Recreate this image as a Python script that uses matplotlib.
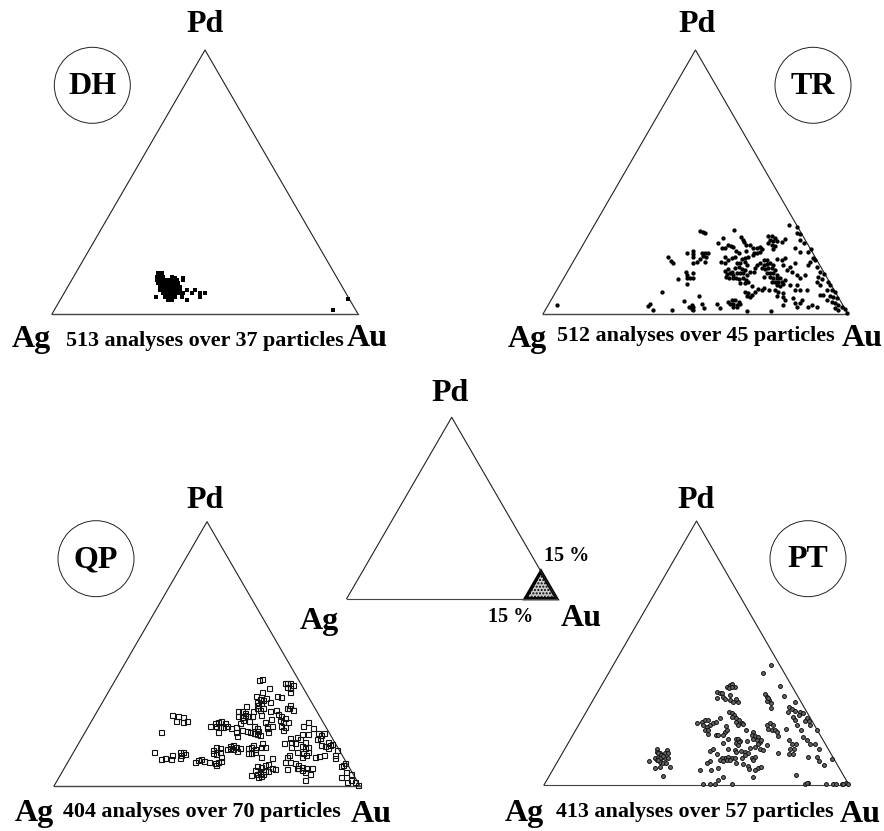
import matplotlib
matplotlib.use('Agg')
import matplotlib.pyplot as plt
from matplotlib.patches import Ellipse, Polygon

# Each pair is (position along the base in %, Pd in %), base position = Au + Pd / 2
dh_points = [
    (34.7, 15.4), (35.8, 15.4), (34.2, 14.1), (35.3, 14.1), (36.4, 14.1), (39.1, 14.1), (40.2, 13.5), (42.9, 13.5),
    (34.2, 12.9), (35.3, 12.9), (36.4, 12.9), (37.5, 12.9), (38.6, 12.9), (39.6, 12.9), (40.7, 12.9), (42.9, 12.9),
    (34.7, 11.6), (35.8, 11.6), (36.9, 11.6), (38.0, 11.6), (39.1, 11.6), (40.2, 11.6), (41.3, 11.6),
    (35.3, 10.3), (36.4, 10.3), (37.5, 10.3), (38.6, 10.3), (39.6, 10.3), (40.7, 10.3), (41.8, 10.3),
    (35.3, 9.1), (36.4, 9.1), (37.5, 9.1), (38.6, 9.1), (39.6, 9.1), (40.7, 9.1), (41.8, 9.1), (44.0, 9.1), (46.7, 9.1),
    (36.4, 7.8), (37.5, 7.8), (38.6, 7.8), (39.6, 7.8), (40.7, 7.8), (41.8, 7.8), (42.9, 7.8), (45.6, 7.8), (48.4, 7.8),
    (50.0, 7.8), (34.0, 6.6), (36.9, 6.6), (38.0, 6.6), (39.1, 6.6), (40.2, 6.6), (42.4, 6.6), (48.4, 6.6),
    (38.0, 5.3), (39.1, 5.3), (44.0, 5.3), (91.8, 1.5), (96.7, 5.7),
]

tr_points = [
    (80.5, 33.7), (83.2, 33.1), (83.2, 30.8), (84.3, 30.3), (84.3, 28.0), (85.6, 26.8), (82.6, 24.9), (84.3, 23.6),
    (87.0, 23.6), (87.8, 24.5), (51.5, 31.6), (52.4, 31.1), (53.0, 30.8), (62.6, 31.8), (58.9, 28.7), (57.5, 27.0),
    (64.8, 29.0), (65.5, 28.0), (65.9, 27.2), (60.8, 26.1), (61.5, 25.8), (62.4, 25.5), (58.6, 24.9), (59.7, 24.9),
    (63.3, 24.0), (66.4, 26.1), (67.9, 26.1), (69.0, 25.1), (70.1, 24.9), (71.2, 25.5), (71.7, 24.5), (66.6, 24.0),
    (69.2, 23.2), (71.0, 23.6), (73.9, 29.5), (75.0, 29.5), (76.1, 28.7), (74.4, 28.0), (75.5, 27.8), (76.6, 27.8),
    (73.9, 26.8), (75.0, 26.1), (76.1, 25.8), (75.3, 24.5), (78.3, 27.4), (79.4, 28.3), (47.3, 23.0), (49.3, 24.0),
    (49.1, 22.7), (49.3, 21.7), (52.0, 23.0), (53.1, 23.2), (54.2, 23.0), (52.6, 22.0), (53.5, 21.7), (51.5, 20.8),
    (50.4, 19.8), (49.3, 19.4), (53.2, 19.6), (40.9, 21.5), (41.9, 20.2), (42.5, 19.4), (59.7, 21.7), (58.3, 19.8),
    (59.7, 19.4), (60.8, 20.5), (61.9, 21.1), (63.0, 21.7), (64.1, 23.0), (65.1, 20.7), (66.2, 21.1), (67.3, 21.7),
    (69.0, 22.4), (70.1, 23.0), (63.5, 19.4), (64.6, 19.2), (66.8, 18.6), (66.2, 19.8), (59.7, 16.4), (60.8, 16.9),
    (61.9, 16.0), (63.0, 17.3), (64.1, 17.7), (65.1, 16.9), (66.2, 16.7), (60.2, 15.2), (61.3, 15.4), (62.4, 14.8),
    (63.5, 15.4), (64.6, 15.7), (65.7, 15.4), (66.8, 14.8), (60.0, 14.1), (61.1, 13.5), (62.2, 13.5), (63.3, 13.5),
    (64.4, 13.1), (65.5, 13.5), (66.6, 12.9), (67.3, 12.2), (64.6, 11.9), (66.2, 11.6), (67.9, 16.0), (69.2, 15.8),
    (72.3, 20.5), (73.4, 20.5), (71.2, 19.2), (72.3, 18.6), (73.4, 19.0), (74.4, 19.2), (75.5, 18.6), (71.7, 17.3),
    (72.8, 16.9), (73.9, 17.3), (75.0, 17.3), (76.1, 16.7), (73.4, 15.4), (74.4, 15.4), (75.5, 15.4), (76.6, 14.8),
    (74.4, 14.1), (75.5, 13.5), (76.6, 13.5), (77.7, 13.5), (75.0, 12.2), (76.1, 12.2), (77.2, 12.2), (78.3, 12.2),
    (79.4, 12.9), (76.6, 11.0), (77.7, 10.6), (78.8, 11.4), (72.3, 14.1), (70.1, 18.6), (69.5, 17.3), (78.3, 20.5),
    (79.4, 21.3), (76.6, 20.7), (78.8, 18.6), (81.0, 17.9), (82.6, 19.2), (79.9, 16.7), (81.5, 16.0), (83.2, 14.8),
    (84.3, 13.5), (85.9, 14.8), (87.0, 18.6), (88.6, 21.1), (87.6, 19.8), (89.2, 20.5), (89.7, 17.9), (90.8, 16.0),
    (92.1, 15.2), (90.3, 14.1), (91.4, 13.1), (89.7, 12.2), (90.8, 11.0), (93.6, 12.2), (94.1, 11.0), (94.7, 9.1),
    (95.8, 8.5), (93.0, 9.1), (91.9, 7.2), (94.1, 6.8), (95.2, 6.3), (96.3, 5.9), (93.0, 5.3), (94.7, 4.7),
    (95.8, 4.0), (96.8, 3.4), (98.0, 2.8), (95.8, 2.1), (96.8, 1.5), (99.0, 1.8), (99.8, 0.5), (66.2, 8.5),
    (67.3, 7.8), (68.4, 7.2), (67.9, 6.3), (66.8, 6.8), (69.5, 8.5), (70.6, 9.3), (71.7, 9.1), (68.4, 10.6),
    (72.3, 9.7), (74.2, 9.1), (76.1, 9.1), (77.2, 8.5), (78.8, 7.8), (76.6, 6.8), (78.8, 6.3), (79.4, 5.3),
    (82.1, 5.9), (82.6, 9.1), (84.3, 9.1), (86.5, 9.1), (81.0, 11.0), (83.2, 11.0), (84.8, 5.3), (84.3, 4.0),
    (82.6, 4.0), (83.4, 2.8), (78.6, 3.4), (87.0, 2.8), (88.1, 3.4), (89.7, 2.8), (90.8, 7.2), (60.8, 4.7),
    (61.9, 5.3), (63.0, 5.3), (64.1, 4.7), (61.3, 3.8), (62.4, 3.8), (63.5, 3.4), (64.6, 3.8), (62.4, 2.8),
    (63.5, 2.5), (44.1, 13.3), (46.9, 16.0), (47.3, 14.8), (49.1, 15.4), (47.3, 13.5), (48.2, 13.5), (49.3, 13.5),
    (47.3, 11.4), (38.9, 8.2), (51.3, 6.8), (46.2, 5.0), (52.0, 3.8), (48.8, 3.4), (48.0, 2.5), (49.3, 2.5),
    (48.8, 1.8), (49.3, 1.5), (52.8, 2.4), (42.2, 1.5), (36.0, 1.5), (35.1, 3.8), (34.5, 3.0), (57.0, 3.7),
    (58.0, 2.1), (67.0, 1.1), (74.7, 1.1), (4.6, 3.5),
]

qp_points = [
    (67.1, 40.1), (68.1, 40.6), (70.2, 36.9), (68.1, 35.5), (66.0, 34.1), (72.8, 34.2), (74.2, 33.7), (75.4, 38.9),
    (76.2, 39.1), (77.1, 39.1), (78.2, 38.2), (76.0, 37.6), (77.1, 37.0), (77.1, 35.7), (66.2, 31.9), (67.3, 32.8),
    (68.4, 32.6), (66.7, 30.7), (67.8, 31.3), (69.2, 33.2), (70.5, 31.6), (62.7, 30.4), (64.9, 28.4), (66.2, 29.4),
    (67.3, 28.8), (68.4, 29.4), (76.0, 29.4), (77.1, 30.7), (78.2, 28.8), (76.9, 29.4), (60.2, 28.2), (61.3, 28.5),
    (62.4, 27.8), (60.2, 26.5), (61.3, 26.0), (62.4, 26.9), (63.5, 26.5), (64.8, 26.5), (61.8, 25.0), (63.8, 24.6),
    (60.7, 23.7), (70.5, 28.2), (72.7, 28.8), (67.8, 26.9), (70.8, 25.4), (73.3, 27.3), (74.3, 26.5), (75.4, 25.6),
    (73.8, 25.0), (74.9, 24.4), (76.5, 24.4), (74.3, 22.7), (75.4, 22.2), (68.9, 24.4), (69.5, 22.7), (71.1, 22.7),
    (70.0, 20.6), (69.5, 21.8), (74.9, 21.2), (38.7, 26.9), (40.4, 26.5), (42.0, 26.0), (39.8, 24.6), (42.2, 24.2),
    (43.4, 24.7), (35.1, 20.3), (51.0, 22.7), (52.6, 24.0), (53.7, 24.4), (54.7, 24.6), (55.8, 23.7), (56.4, 22.7),
    (53.1, 22.7), (54.2, 22.2), (55.3, 22.2), (53.7, 20.6), (57.8, 21.8), (59.4, 22.2), (59.6, 20.6), (61.6, 21.2),
    (59.9, 19.1), (63.1, 20.9), (64.2, 20.6), (65.3, 22.7), (66.4, 21.8), (65.3, 20.2), (66.2, 19.6), (67.3, 19.3),
    (66.7, 20.9), (81.4, 22.7), (83.1, 24.4), (84.7, 21.8), (80.9, 19.7), (79.3, 18.7), (83.1, 19.7), (86.3, 20.0),
    (87.4, 19.3), (88.2, 20.2), (85.8, 17.7), (86.9, 18.0), (77.1, 18.0), (77.6, 16.8), (75.0, 16.4), (78.7, 16.4),
    (80.3, 17.7), (82.0, 16.8), (80.9, 15.1), (82.0, 14.3), (83.1, 14.9), (77.6, 14.9), (79.3, 13.0), (68.1, 16.1),
    (67.8, 14.9), (68.9, 14.6), (81.4, 12.4), (82.5, 11.7), (85.2, 10.8), (86.7, 11.3), (88.3, 11.7), (81.2, 10.8),
    (83.1, 13.0), (87.4, 15.5), (88.5, 15.1), (89.6, 16.8), (90.7, 15.9), (89.6, 14.3), (90.1, 15.5), (92.5, 13.6),
    (91.8, 11.7), (91.8, 10.5), (52.0, 13.6), (53.1, 14.6), (54.2, 14.3), (52.0, 12.4), (53.1, 12.1), (54.2, 13.0),
    (54.7, 11.1), (56.4, 13.9), (57.5, 14.3), (58.6, 15.5), (59.6, 14.9), (60.7, 14.3), (58.6, 13.9), (59.9, 13.4),
    (57.5, 15.1), (63.5, 14.3), (64.5, 14.6), (65.6, 13.9), (63.5, 12.4), (64.5, 12.4), (65.6, 13.0), (65.1, 15.5),
    (32.6, 12.7), (35.1, 10.1), (36.2, 10.5), (38.1, 10.1), (38.7, 11.7), (41.1, 13.0), (42.2, 13.0), (41.4, 11.7),
    (42.8, 12.1), (41.1, 10.5), (46.0, 9.2), (47.1, 9.8), (48.2, 10.1), (49.0, 9.6), (50.6, 9.0), (52.6, 8.6),
    (53.7, 9.2), (54.7, 9.5), (53.1, 7.9), (67.5, 10.8), (71.4, 10.5), (76.9, 11.7), (76.0, 10.8), (75.4, 9.2),
    (77.1, 9.2), (78.7, 8.6), (79.8, 7.9), (80.9, 7.3), (79.8, 6.7), (80.9, 6.0), (82.0, 5.4), (79.3, 6.7),
    (76.2, 6.4), (82.5, 6.9), (84.2, 6.9), (83.6, 4.5), (82.0, 2.3), (66.2, 7.6), (67.8, 7.3), (68.9, 7.9),
    (70.0, 8.3), (71.1, 6.7), (72.2, 6.3), (65.6, 6.0), (67.3, 5.8), (68.9, 5.8), (70.0, 5.8), (64.5, 4.2),
    (66.2, 4.5), (67.3, 4.8), (66.7, 3.3), (67.8, 3.8), (68.4, 4.5), (94.5, 7.9), (95.0, 8.8), (93.9, 7.6),
    (95.4, 5.4), (97.2, 4.4), (93.9, 3.3), (97.2, 2.3), (95.8, 1.4), (99.4, 0.4), (98.3, 1.6),
]

pt_points = [
    (74.3, 45.4), (71.9, 42.5), (77.3, 37.6), (78.7, 33.8), (60.1, 37.2), (61.0, 37.8), (61.8, 38.2), (62.6, 37.0),
    (60.7, 36.6), (61.5, 37.0), (56.8, 35.3), (57.7, 34.7), (58.8, 33.4), (58.2, 34.9), (56.6, 32.8), (59.3, 32.4),
    (61.0, 32.2), (62.0, 31.5), (63.7, 31.5), (61.0, 34.0), (62.9, 32.4), (72.4, 34.3), (73.2, 33.4), (73.8, 32.2),
    (73.0, 31.9), (74.3, 30.9), (74.3, 29.0), (73.5, 32.8), (82.3, 31.5), (80.4, 29.4), (81.2, 28.6), (80.1, 27.7),
    (82.3, 28.0), (83.9, 27.7), (85.0, 27.1), (83.7, 26.5), (81.7, 25.8), (82.3, 24.8), (86.1, 25.2), (86.9, 24.3),
    (85.5, 24.3), (87.2, 22.7), (89.4, 20.8), (83.0, 22.7), (84.4, 21.0), (79.5, 21.4), (60.7, 27.7), (61.5, 27.1),
    (62.3, 26.5), (61.8, 25.8), (63.1, 25.2), (64.0, 24.6), (63.1, 23.9), (64.8, 23.6), (63.7, 22.7), (65.3, 23.1),
    (50.2, 23.6), (51.7, 23.9), (52.8, 24.6), (53.8, 24.8), (52.2, 22.7), (53.3, 22.1), (54.4, 22.7), (55.5, 23.3),
    (56.4, 23.9), (52.8, 20.8), (53.8, 20.8), (57.7, 25.5), (53.8, 19.5), (73.0, 22.7), (74.1, 23.6), (75.2, 22.7),
    (73.5, 21.4), (74.6, 20.8), (75.7, 20.8), (76.8, 18.6), (76.3, 20.2), (59.6, 22.3), (59.3, 20.2), (58.8, 18.9),
    (59.9, 20.8), (56.4, 19.1), (57.1, 19.0), (60.4, 17.6), (58.8, 16.0), (66.2, 21.0), (68.6, 20.2), (68.1, 18.9),
    (69.1, 18.5), (70.2, 18.3), (68.6, 17.6), (69.7, 17.0), (70.8, 16.4), (70.2, 15.5), (71.3, 17.0), (73.0, 15.1),
    (67.5, 14.2), (69.1, 14.5), (62.9, 17.6), (63.7, 17.3), (64.4, 16.8), (63.1, 16.0), (64.0, 16.4), (66.4, 16.6),
    (63.7, 15.1), (62.6, 13.2), (63.1, 12.6), (64.6, 13.0), (65.9, 12.6), (67.0, 12.0), (70.8, 13.5), (71.9, 13.2),
    (54.4, 12.8), (55.3, 13.8), (56.6, 11.9), (60.4, 13.8), (59.3, 10.4), (58.2, 10.1), (57.7, 9.4), (60.4, 10.7),
    (61.5, 10.4), (62.6, 10.1), (58.8, 9.0), (59.9, 9.4), (61.0, 9.4), (63.1, 8.2), (64.8, 10.1), (65.9, 11.3),
    (65.3, 7.9), (67.0, 7.1), (68.1, 10.4), (69.1, 10.7), (68.6, 9.4), (54.4, 9.0), (53.5, 8.2), (51.3, 5.6),
    (54.9, 5.6), (56.9, 6.5), (70.2, 6.3), (69.1, 5.6), (71.3, 6.9), (67.3, 5.9), (68.4, 2.9), (58.8, 3.1),
    (57.2, 1.8), (52.2, 0.2), (54.4, 0.2), (56.0, 0.2), (61.7, 0.2), (36.9, 13.8), (37.1, 12.6), (38.0, 12.0),
    (40.2, 13.2), (39.6, 12.0), (40.7, 12.0), (36.4, 10.4), (37.4, 10.7), (38.5, 10.1), (39.6, 10.1), (40.7, 10.4),
    (36.9, 9.4), (38.0, 8.8), (39.1, 8.2), (34.4, 9.0), (36.4, 6.5), (38.0, 6.9), (40.0, 8.2), (41.3, 6.9),
    (39.1, 3.4), (37.4, 12.0), (38.5, 11.3), (38.0, 10.1), (39.1, 11.0), (37.4, 9.4), (80.3, 17.0), (81.2, 15.7),
    (82.6, 15.4), (80.6, 13.8), (81.9, 13.8), (80.4, 11.7), (81.7, 11.7), (76.6, 12.0), (85.0, 18.3), (86.1, 17.0),
    (87.2, 15.7), (88.9, 15.4), (90.2, 13.6), (86.6, 10.7), (89.4, 10.7), (90.1, 9.0), (91.8, 7.5), (94.3, 9.7),
    (82.6, 3.7), (85.5, 0.2), (86.6, 0.8), (86.1, 0.6), (92.4, 0.2), (94.8, 0.2), (95.7, 0.2), (97.6, 0.2),
    (99.0, 0.6), (99.6, 0.2), (98.1, 0.2),
]

panel_names = ['DH', 'TR', 'QP', 'PT']
analyses = ['513 analyses over 37 particles', '512 analyses over 45 particles',
            '404 analyses over 70 particles', '413 analyses over 57 particles']

W, H = 884, 831
SERIF = 'Liberation Serif'

fig = plt.figure(figsize=(W / 100, H / 100), dpi=100)


def label(x, y, s, size=23):
    # x, y in image pixels, y going down
    fig.text(x / W, 1 - y / H, s, ha='center', va='center', family=SERIF, weight='bold', fontsize=size)


def triangle(left, right, apex_y, base_y, base_lw=0.8):
    ax = fig.add_axes([left / W, 1 - base_y / H, (right - left) / W, (base_y - apex_y) / H])
    ax.set_xlim(0, 100)
    ax.set_ylim(0, 100)
    ax.axis('off')
    ax.plot([100, 50, 0], [0, 100, 0], color='#222222', lw=0.8, clip_on=False)
    ax.plot([0, 100], [0, 0], color='#444444', lw=base_lw, clip_on=False)
    return ax


def scatter(ax, points, **style):
    xs = [p[0] for p in points]
    ys = [p[1] for p in points]
    ax.plot(xs, ys, linestyle='none', clip_on=False, **style)


def badge(x, y, s):
    fig.add_artist(Ellipse((x / W, 1 - y / H), 76 / W, 76 / H, transform=fig.transFigure,
                           fill=False, edgecolor='#222222', lw=0.7))
    label(x, y + 1, s, size=23)


# DH
ax = triangle(52, 358, 50, 314, base_lw=1.0)
scatter(ax, dh_points, marker='s', ms=3.2, color='black', mew=0)
badge(92.3, 85.3, panel_names[0])
label(205, 25, 'Pd')
label(31, 339, 'Ag')
label(367, 339, 'Au')
label(205, 340.5, analyses[0], size=15.8)

# TR
ax = triangle(543, 848, 50, 314, base_lw=1.0)
scatter(ax, tr_points, marker='o', ms=3.1, color='black', mew=0)
badge(813, 85.3, panel_names[1])
label(697, 25, 'Pd')
label(527, 339, 'Ag')
label(862, 339, 'Au')
label(696, 335.5, analyses[1], size=15.8)

# QP
ax = triangle(54, 360, 521.7, 786, base_lw=1.0)
scatter(ax, qp_points, marker='s', ms=3.6, mfc='none', mec='#111111', mew=0.8)
badge(96, 558.7, panel_names[2])
label(205, 501, 'Pd')
label(34, 814, 'Ag')
label(371, 814, 'Au')
label(202, 812, analyses[2], size=15.8)

# PT
ax = triangle(544, 849, 521, 785)
scatter(ax, pt_points, marker='o', ms=2.8, mfc='#666666', mec='#111111', mew=0.7)
badge(808, 558.7, panel_names[3])
label(696, 501, 'Pd')
label(524, 814, 'Ag')
label(860, 814, 'Au')
label(695, 812, analyses[3], size=15.8)

# legend triangle in the middle
ax = triangle(346.7, 556.7, 417.3, 598.7)
ax.add_patch(Polygon([(85, 0), (100, 0), (92.5, 15)], closed=True, facecolor='#cccccc', edgecolor='black',
                     lw=2.4, hatch='.....', clip_on=False, joinstyle='miter'))
label(450, 394, 'Pd')
label(319, 622, 'Ag')
label(581, 618, 'Au')
label(567, 556, '15 %', size=14.5)
label(511, 617, '15 %', size=14.5)

plt.savefig('out.png', dpi=100)
